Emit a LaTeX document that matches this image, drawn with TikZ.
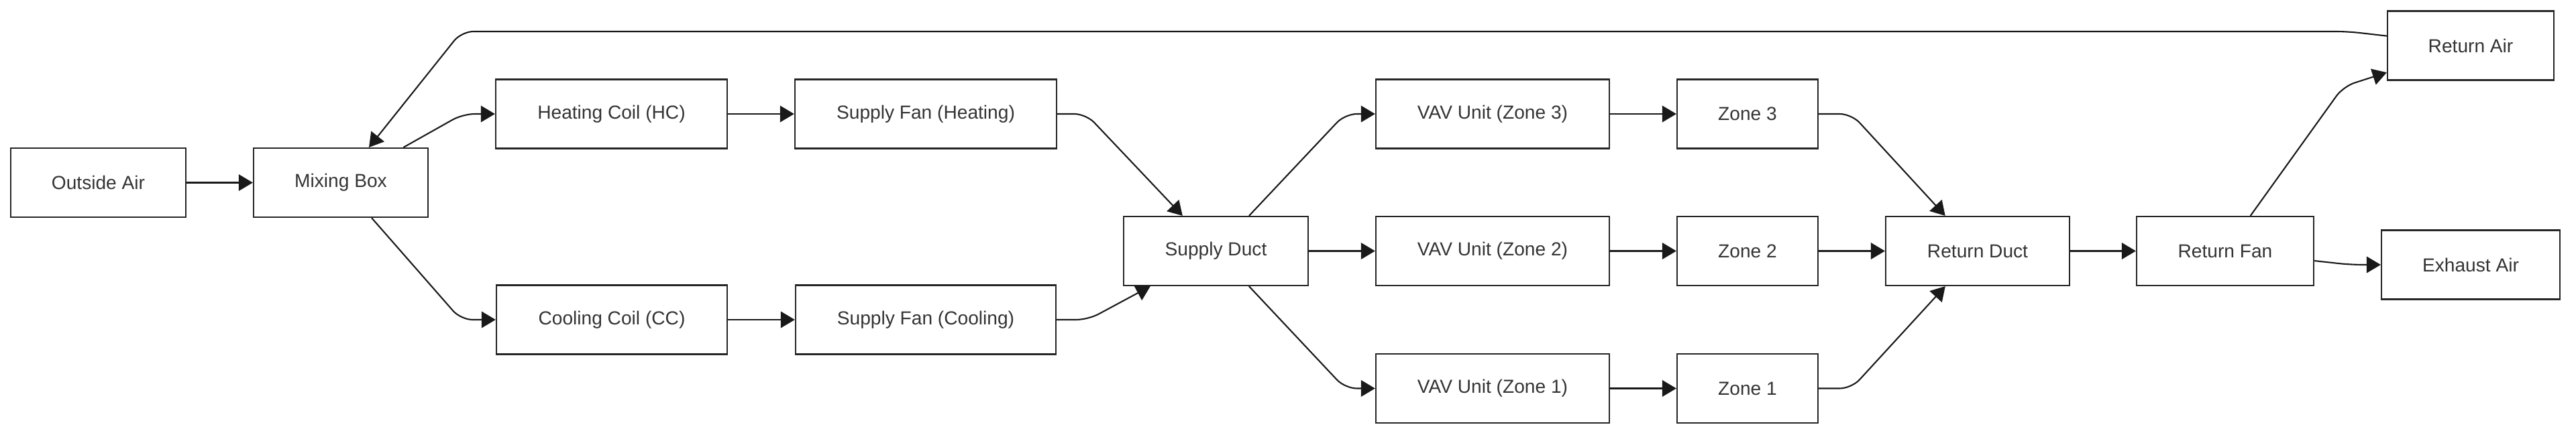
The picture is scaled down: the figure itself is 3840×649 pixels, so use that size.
\documentclass[tikz,border=0pt]{standalone}
\usepackage{fontspec}
\setmainfont{Liberation Sans}
\usetikzlibrary{arrows.meta}
\tikzset{
  unit/.style={draw=black!85, line width=0.6pt, text=black!80, minimum height=1.03cm,
    inner sep=0pt, font=\fontsize{8pt}{9.6pt}\selectfont},
  flow/.style={draw=black!90, line width=0.6pt, rounded corners=5pt,
    -{Triangle[length=6pt,width=7pt]}}
}
\begin{document}
\begin{tikzpicture}[x=0.01cm, y=-0.01cm]
\useasboundingbox (0,0) rectangle (3840,649);
\foreach \n/\x/\y/\w/\t in {oa/146.5/272.5/2.61/Outside Air, mix/508/272.5/2.60/Mixing Box,
hc/911.5/170/3.45/Heating Coil (HC), cc/912/477/3.44/Cooling Coil (CC),
sfh/1380/170/3.90/Supply Fan (Heating), sfc/1380/477/3.88/Supply Fan (Cooling),
sd/1812.5/374.5/2.75/Supply Duct, vav3/2225/170/3.48/VAV Unit (Zone 3),
vav2/2225/374.5/3.48/VAV Unit (Zone 2), vav1/2225/579.5/3.48/VAV Unit (Zone 1),
z3/2605/170/2.10/Zone 3, z2/2605/374.5/2.10/Zone 2, z1/2605/579.5/2.10/Zone 1,
rd/2948/374.5/2.74/Return Duct, rf/3317/374.5/2.64/Return Fan,
ra/3683/68/2.48/Return Air, ea/3683/395/2.66/Exhaust Air}
  \node[unit, minimum width=\w cm] (\n) at (\x,\y) {\t};
% bend points of the air paths
\coordinate (hcbend) at (690,170);
\coordinate (ccbend) at (687,477);
\coordinate (sfhbend) at (1619,170);
\coordinate (sfcbend) at (1622,477);
\coordinate (v3bend) at (2005,170);
\coordinate (v1bend) at (2005,579.5);
\coordinate (z3bend) at (2760,170);
\coordinate (z1bend) at (2760,579.5);
\coordinate (rfup) at (3493,129);
\coordinate (rfdown) at (3504,395);
\coordinate (rabend) at (3500,47);
\coordinate (mixbend) at (688,47);
\draw[flow] (oa) -- (mix);
\draw[flow] (mix) -- (hcbend) -- (hc);
\draw[flow] (mix) -- (ccbend) -- (cc);
\draw[flow] (hc) -- (sfh);
\draw[flow] (cc) -- (sfc);
\draw[flow] (sfh) -- (sfhbend) -- (sd);
\draw[flow] (sfc) -- (sfcbend) -- (sd);
\draw[flow] (sd) -- (v3bend) -- (vav3);
\draw[flow] (sd) -- (vav2);
\draw[flow] (sd) -- (v1bend) -- (vav1);
\foreach \i in {1,2,3}
  \draw[flow] (vav\i) -- (z\i);
\draw[flow] (z3) -- (z3bend) -- (rd);
\draw[flow] (z2) -- (rd);
\draw[flow] (z1) -- (z1bend) -- (rd);
\draw[flow] (rd) -- (rf);
\draw[flow] (rf) -- (rfup) -- (ra);
\draw[flow] (rf) -- (rfdown) -- (ea);
\draw[flow] (ra) -- (rabend) -- (mixbend) -- (mix);
\end{tikzpicture}
\end{document}
